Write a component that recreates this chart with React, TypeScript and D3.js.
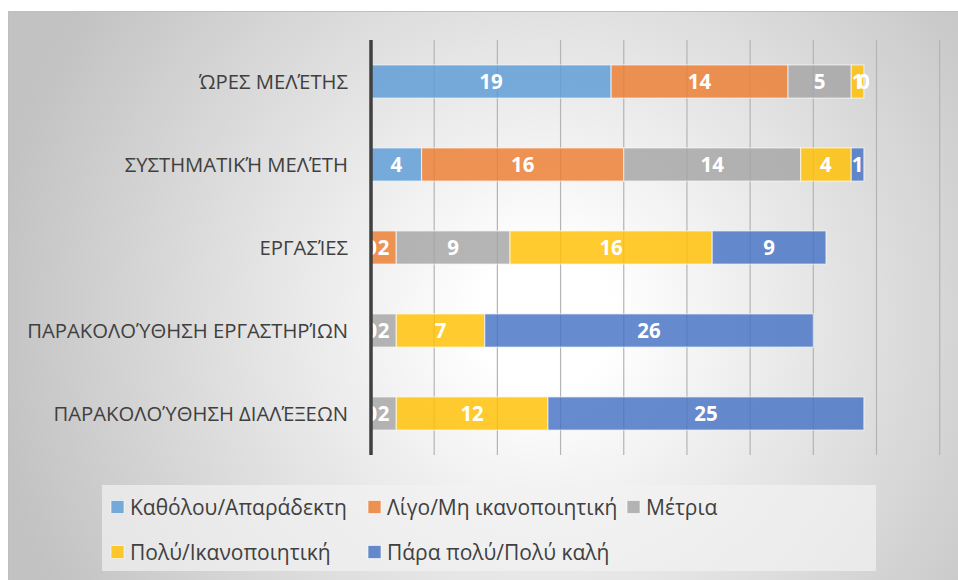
import React from "react";
import * as d3 from "d3";

const categories = [
  "ΏΡΕΣ ΜΕΛΈΤΗΣ",
  "ΣΥΣΤΗΜΑΤΙΚΉ ΜΕΛΈΤΗ",
  "ΕΡΓΑΣΊΕΣ",
  "ΠΑΡΑΚΟΛΟΎΘΗΣΗ ΕΡΓΑΣΤΗΡΊΩΝ",
  "ΠΑΡΑΚΟΛΟΎΘΗΣΗ ΔΙΑΛΈΞΕΩΝ",
];
const seriesNames = [
  "Καθόλου/Απαράδεκτη",
  "Λίγο/Μη ικανοποιητική",
  "Μέτρια",
  "Πολύ/Ικανοποιητική",
  "Πάρα πολύ/Πολύ καλή",
];
const katholou = [19, 4, 0, 0, 0];
const ligo = [14, 16, 2, 0, 0];
const metria = [5, 14, 9, 2, 2];
const poly = [1, 4, 16, 7, 12];
const paraPoly = [0, 1, 9, 26, 25];
const xTicks = [0, 5, 10, 15, 20, 25, 30, 35, 40, 45];
const colors = ["#5B9BD5", "#ED7D31", "#A5A5A5", "#FFC000", "#4472C4"];

const W = 958;
const H = 580;
const X0 = 371;
const X1 = 939.7;
const Y0 = 40;
const Y1 = 455;

export default function App() {
  const seriesValues = [katholou, ligo, metria, poly, paraPoly];
  const rows = categories.map((c, i) => {
    const r: Record<string, number | string> = { cat: c };
    seriesNames.forEach((s, j) => (r[s] = seriesValues[j][i]));
    return r;
  });
  const stack = d3.stack<any>().keys(seriesNames)(rows as any);
  const x = d3.scaleLinear().domain([0, 45]).range([X0, X1]);
  const y = d3
    .scaleBand<string>()
    .domain(categories)
    .range([Y0, Y1])
    .paddingInner(0.6)
    .paddingOuter(0.3);
  const bw = y.bandwidth();
  const font = "'Open Sans', 'Noto Sans', sans-serif";

  const legendPos = [
    [111, 507],
    [368, 507],
    [627, 507],
    [111, 552],
    [368, 552],
  ];

  return (
    <svg
      width={W}
      height={H}
      style={{ position: "absolute", left: 0, top: 0, background: "#fff" }}
    >
      <defs>
        <radialGradient
          id="bg"
          gradientUnits="userSpaceOnUse"
          cx={545}
          cy={320}
          r={560}
        >
          <stop offset="0" stopColor="#ffffff" />
          <stop offset="0.12" stopColor="#ffffff" />
          <stop offset="1" stopColor="#c2c2c2" />
        </radialGradient>
        <clipPath id="plotClip">
          <rect x={X0} y={0} width={W - X0} height={H} />
        </clipPath>
      </defs>
      <rect
        x={8.5}
        y={11.5}
        width={W}
        height={H}
        fill="url(#bg)"
        stroke="#bfbfbf"
        strokeWidth={1}
      />
      {/* gridlines */}
      {xTicks.slice(1).map((t) => (
        <line
          key={t}
          x1={x(t)}
          x2={x(t)}
          y1={Y0}
          y2={Y1}
          stroke="#b4b4b4"
          strokeWidth={1.2}
        />
      ))}
      {/* bars */}
      {stack.map((s, si) => (
        <g key={s.key}>
          {s.map((d, i) => (
            <rect
              key={i}
              x={x(d[0])}
              y={y(categories[i])}
              width={x(d[1]) - x(d[0])}
              height={bw}
              fill={colors[si]}
              fillOpacity={0.82}
              stroke="#ffffff"
              strokeOpacity={0.6}
              strokeWidth={1.2}
            />
          ))}
        </g>
      ))}
      {/* labels */}
      <g clipPath="url(#plotClip)">
        {stack.map((s) => (
          <g key={s.key}>
            {s.map((d, i) => (
              <text
                key={i}
                x={x((d[0] + d[1]) / 2)}
                y={(y(categories[i]) as number) + bw / 2}
                dy="0.36em"
                textAnchor="middle"
                fill="#ffffff"
                fontFamily={font}
                fontWeight={700}
                fontSize={20.5}
              >
                {d[1] - d[0]}
              </text>
            ))}
          </g>
        ))}
      </g>
      {/* axis line */}
      <line x1={X0} x2={X0} y1={Y0} y2={Y1} stroke="#404040" strokeWidth={3.5} />
      {/* category labels */}
      {categories.map((c) => (
        <text
          key={c}
          x={348}
          y={(y(c) as number) + bw / 2}
          dy="0.36em"
          textAnchor="end"
          fill="#404040"
          fontFamily={font}
          fontSize={20.3}
        >
          {c}
        </text>
      ))}
      {/* legend */}
      <rect x={102} y={485} width={774} height={86} fill="#f2f2f2" fillOpacity={0.7} />
      {seriesNames.map((n, i) => (
        <g key={n}>
          <rect
            x={legendPos[i][0]}
            y={legendPos[i][1] - 6.5}
            width={13}
            height={13}
            fill={colors[i]}
            fillOpacity={0.82}
            stroke="#ffffff"
            strokeOpacity={0.6}
          />
          <text
            x={legendPos[i][0] + 19}
            y={legendPos[i][1]}
            dy="0.36em"
            fill="#404040"
            fontFamily={font}
            fontSize={21}
          >
            {n}
          </text>
        </g>
      ))}
    </svg>
  );
}
